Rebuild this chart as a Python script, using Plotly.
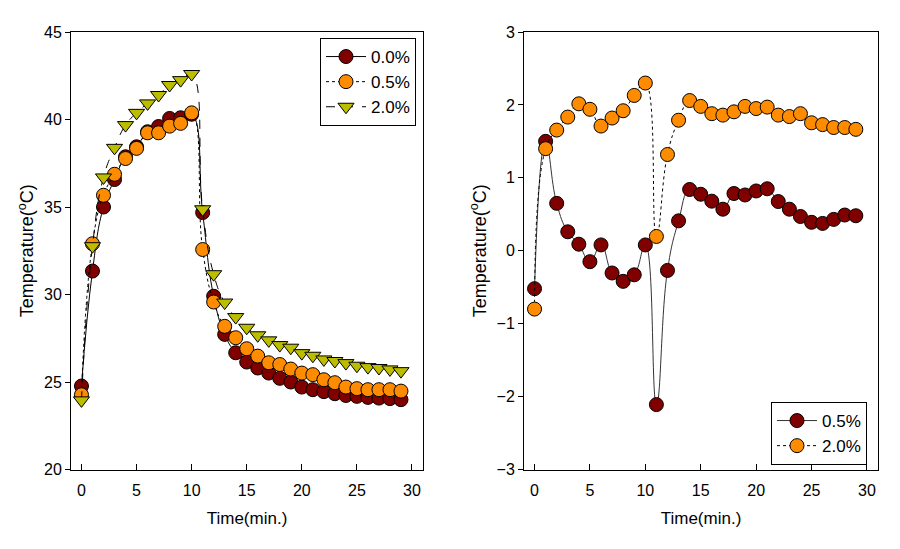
import plotly.graph_objects as go

# ---------------- data ----------------
time_min = list(range(30))

left_0_0 = [24.77, 31.34, 35.0, 36.57, 37.87, 38.44, 39.3, 39.6, 40.06, 40.1, 40.3,
            34.68, 29.9, 27.72, 26.67, 26.14, 25.8, 25.51, 25.21, 25.0,
            24.71, 24.56, 24.45, 24.33, 24.23, 24.18, 24.12, 24.08, 24.05, 23.99]
left_0_5 = [24.27, 32.9, 35.67, 36.87, 37.77, 38.35, 39.24, 39.24, 39.62, 39.78, 40.38,
            32.57, 29.57, 28.18, 27.53, 26.9, 26.48, 26.1, 26.0, 25.74,
            25.51, 25.42, 25.13, 24.96, 24.71, 24.62, 24.56, 24.56, 24.56, 24.48]
left_2_0 = [23.95, 32.76, 36.69, 38.38, 39.68, 40.38, 40.92, 41.4, 41.97, 42.25, 42.6,
            34.87, 31.16, 29.54, 28.71, 28.1, 27.67, 27.38, 27.11, 26.96,
            26.65, 26.5, 26.29, 26.2, 26.08, 25.93, 25.85, 25.8, 25.72, 25.62]

right_0_5 = [-0.52, 1.50, 0.65, 0.26, 0.09, -0.15, 0.08, -0.305, -0.42, -0.33, 0.08,
             -2.11, -0.27, 0.41, 0.84, 0.775, 0.68, 0.57, 0.785, 0.765,
             0.82, 0.85, 0.675, 0.57, 0.47, 0.39, 0.375, 0.43, 0.49, 0.48]
right_2_0 = [-0.80, 1.40, 1.655, 1.833, 2.015, 1.94, 1.71, 1.82, 1.92, 2.13, 2.30,
             0.196, 1.32, 1.79, 2.06, 1.98, 1.88, 1.86, 1.905, 1.98,
             1.95, 1.97, 1.86, 1.84, 1.88, 1.755, 1.73, 1.69, 1.69, 1.665]

left_names = ["0.0%", "0.5%", "2.0%"]
right_names = ["0.5%", "2.0%"]
x_ticks = [0, 5, 10, 15, 20, 25, 30]
left_y_ticks = [20, 25, 30, 35, 40, 45]
right_y_ticks = [-3, -2, -1, 0, 1, 2, 3]

# ---------------- style ----------------
FONT = "Liberation Sans, Arial, sans-serif"
MAROON = "#800000"
ORANGE = "#FF8C00"
OLIVE = "#BDBD00"

fig = go.Figure()

def add(y, name, color, dash, symbol, xa, ya, legend, lcolor="#000000"):
    fig.add_trace(go.Scatter(
        x=time_min, y=y, name=name, mode="lines+markers",
        line=dict(color=lcolor, width=1, dash=dash, shape="spline", smoothing=1.3),
        marker=dict(color=color, size=14, symbol=symbol,
                    line=dict(color="#000000", width=1)),
        xaxis=xa, yaxis=ya, legend=legend,
    ))

add(left_0_0, left_names[0], MAROON, "solid", "circle", "x", "y", "legend")
add(left_0_5, left_names[1], ORANGE, "dot", "circle", "x", "y", "legend")
add(left_2_0, left_names[2], OLIVE, "dash", "triangle-down", "x", "y", "legend")
add(right_0_5, right_names[0], MAROON, "solid", "circle", "x2", "y2", "legend2", "#333333")
add(right_2_0, right_names[1], ORANGE, "dot", "circle", "x2", "y2", "legend2")

ydom = [1 - 469.5 / 549, 1 - 32 / 549]

xcommon = dict(
    range=[-0.95, 31], tickvals=x_ticks, ticks="inside", ticklen=6,
    tickcolor="#000", showline=True, linecolor="#000", linewidth=1,
    mirror=True, showgrid=False, zeroline=False, automargin=False,
    tickfont=dict(family=FONT, size=16, color="#000"),
    ticklabelstandoff=6,
    title=dict(text="Time(min.)", font=dict(family=FONT, size=17, color="#000"),
               standoff=14),
)
ycommon = dict(
    ticks="outside", ticklen=5, tickcolor="#000", showline=True,
    linecolor="#000", linewidth=1, mirror=True, showgrid=False, zeroline=False,
    automargin=False,
    tickfont=dict(family=FONT, size=16, color="#000"),
    title=dict(text="Temperature(<sup>o</sup>C)",
               font=dict(family=FONT, size=18, color="#000"), standoff=5),
)

fig.update_layout(
    width=900, height=549,
    margin=dict(l=0, r=0, t=0, b=0),
    paper_bgcolor="white", plot_bgcolor="white",
    font=dict(family=FONT, color="#000"),
    xaxis=dict(domain=[71 / 900, 423 / 900], anchor="y", **xcommon),
    yaxis=dict(domain=ydom, anchor="x", range=[20, 45], tickvals=left_y_ticks, **ycommon),
    xaxis2=dict(domain=[524 / 900, 878 / 900], anchor="y2", **xcommon),
    yaxis2=dict(domain=ydom, anchor="x2", range=[-3, 3], tickvals=right_y_ticks, **ycommon),
    legend=dict(x=416 / 900, y=1 - 38 / 549, xanchor="right", yanchor="top",
                xref="paper", yref="paper",
                bordercolor="#000", borderwidth=1, bgcolor="white",
                font=dict(family=FONT, size=17, color="#000"),
                itemwidth=40, tracegroupgap=0),
    legend2=dict(x=867 / 900, y=1 - 402 / 549, xanchor="right", yanchor="top",
                 xref="paper", yref="paper",
                 bordercolor="#000", borderwidth=1, bgcolor="white",
                 font=dict(family=FONT, size=17, color="#000"),
                 itemwidth=40, tracegroupgap=0),
    showlegend=True,
)

fig.write_html("out.html",
               config={"displayModeBar": False},
               post_script="document.body.style.margin='0';document.body.style.overflow='hidden';")
